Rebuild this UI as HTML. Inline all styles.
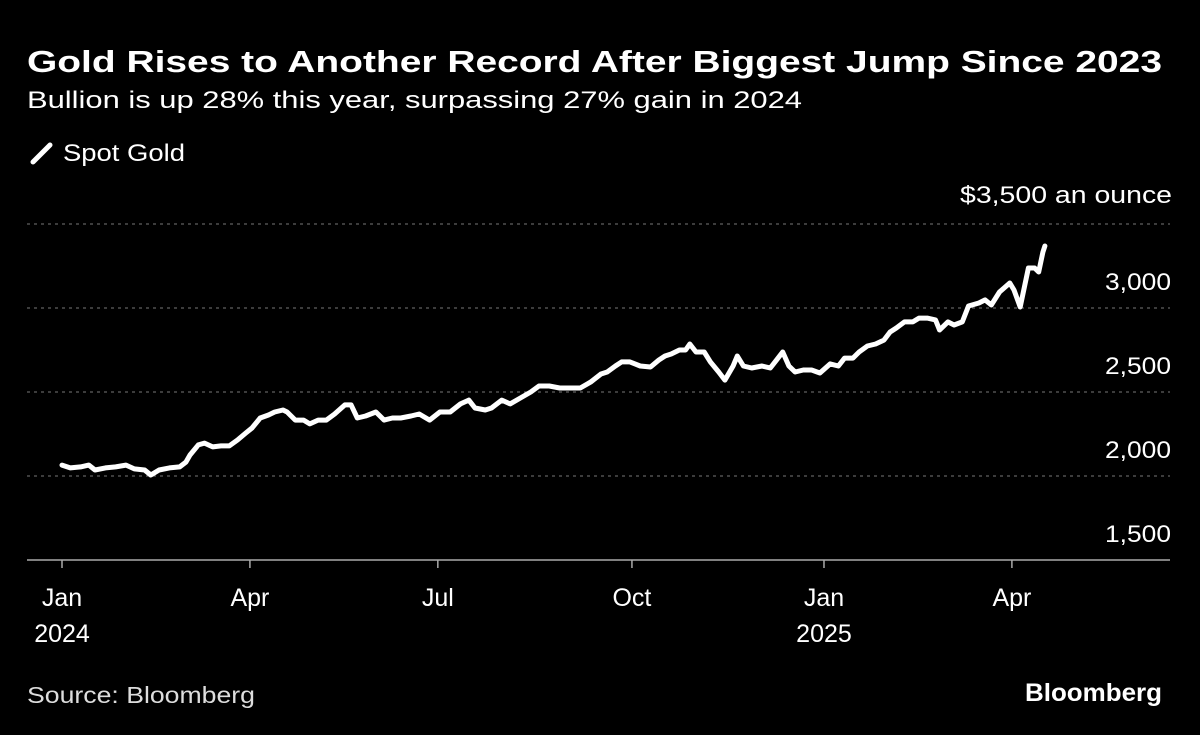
<!DOCTYPE html>
<html><head><meta charset="utf-8"><style>
body{margin:0;background:#000;width:1200px;height:735px;overflow:hidden;font-family:"Liberation Sans",sans-serif;color:#fff}
svg{position:absolute;left:0;top:0}
</style></head><body>
<svg width="1200" height="735">
<text x="27" y="72" font-size="31" font-weight="bold" fill="#fff" textLength="1135" lengthAdjust="spacingAndGlyphs">Gold Rises to Another Record After Biggest Jump Since 2023</text>
<text x="27" y="108" font-size="24" fill="#fff" textLength="775" lengthAdjust="spacingAndGlyphs">Bullion is up 28% this year, surpassing 27% gain in 2024</text>
<g>
<line x1="33" y1="162" x2="50" y2="145" stroke="#fff" stroke-width="5" stroke-linecap="round"/>
<text x="63" y="161" font-size="24" fill="#fff" textLength="122" lengthAdjust="spacingAndGlyphs">Spot Gold</text></g>
<text x="1172" y="203" font-size="24" text-anchor="end" fill="#fff" textLength="212" lengthAdjust="spacingAndGlyphs">$3,500 an ounce</text>
<g id="grid"></g><g id="xaxis"></g>
<path id="line" fill="none" stroke="#fff" stroke-width="5" stroke-linejoin="round" stroke-linecap="round"/>
<text x="27" y="703" font-size="23" fill="#ddd" textLength="228" lengthAdjust="spacingAndGlyphs">Source: Bloomberg</text>
<text x="1162" y="701" font-size="25" font-weight="bold" text-anchor="end" fill="#fff" textLength="137" lengthAdjust="spacingAndGlyphs">Bloomberg</text>
</svg>
<script>
const days=[0,4,9,13,16,21,26,31,35,40,43,47,52,57,60,62,66,69,73,77,81,85,89,92,96,100,103,107,109,113,117,120,124,128,132,137,140,143,147,152,156,160,164,169,173,178,183,188,193,197,200,205,208,213,217,222,227,231,236,241,246,251,256,261,264,268,271,275,280,285,289,292,295,299,302,304,307,311,314,318,321,325,327,330,334,339,343,346,349,352,355,359,363,367,372,376,379,383,386,390,394,398,401,404,408,412,415,419,423,425,429,432,436,439,444,447,450,454,459,461,464,468,471,473,475,476];
const prices=[2065,2048,2054,2065,2036,2048,2054,2065,2042,2036,2006,2036,2048,2054,2083,2125,2185,2196,2173,2179,2179,2214,2256,2286,2345,2363,2381,2393,2381,2333,2333,2310,2333,2333,2369,2423,2423,2345,2357,2381,2333,2345,2345,2357,2369,2333,2381,2381,2429,2452,2405,2393,2405,2452,2429,2464,2500,2536,2536,2524,2524,2524,2559,2607,2619,2655,2679,2679,2655,2649,2690,2714,2726,2750,2750,2786,2738,2738,2679,2619,2571,2655,2714,2655,2643,2655,2643,2690,2738,2655,2619,2631,2631,2613,2667,2655,2702,2702,2738,2774,2786,2809,2857,2881,2917,2917,2940,2940,2929,2869,2917,2899,2917,3012,3030,3048,3018,3095,3149,3107,3006,3238,3238,3214,3333,3369];
const yTicks=[1500,2000,2500,3000,3500];
const yLabels=["1,500","2,000","2,500","3,000",""];
const xTickDays=[0,91,182,276,369,460];
const xLabels=[["Jan","2024"],["Apr",""],["Jul",""],["Oct",""],["Jan","2025"],["Apr",""]];
const X=d=>62+d*2.065, Y=v=>560-(v-1500)*84/500;
const NS="http://www.w3.org/2000/svg";
const grid=document.getElementById('grid'), xa=document.getElementById('xaxis');
yTicks.forEach((t,i)=>{
 const l=document.createElementNS(NS,'line');
 l.setAttribute('x1',27);l.setAttribute('x2',1170);l.setAttribute('y1',Y(t));l.setAttribute('y2',Y(t));
 if(i===0){l.setAttribute('stroke','#aaa');l.setAttribute('stroke-width','1.5');}
 else{l.setAttribute('stroke','#777');l.setAttribute('stroke-dasharray','3,4');}
 
 
 grid.appendChild(l);
 if(yLabels[i]){const tx=document.createElementNS(NS,'text');
 tx.setAttribute('x',1171);tx.setAttribute('y',Y(t)-18);tx.setAttribute('text-anchor','end');tx.setAttribute('font-size','24');tx.setAttribute('fill','#fff');
 tx.setAttribute('textLength','66');tx.setAttribute('lengthAdjust','spacingAndGlyphs');
 tx.textContent=yLabels[i];
 
 
 grid.appendChild(tx);}
});
xTickDays.forEach((d,i)=>{
 const l=document.createElementNS(NS,'line');
 l.setAttribute('x1',X(d));l.setAttribute('x2',X(d));l.setAttribute('y1',560);l.setAttribute('y2',568);l.setAttribute('stroke','#aaa');l.setAttribute('stroke-width','1.5');
 
 
 xa.appendChild(l);
 xLabels[i].forEach((s,j)=>{if(!s)return;const tx=document.createElementNS(NS,'text');
 tx.setAttribute('x',X(d));tx.setAttribute('y',606+j*36);tx.setAttribute('text-anchor','middle');tx.setAttribute('font-size','25');tx.setAttribute('fill','#fff');
 tx.textContent=s;
 
 
 xa.appendChild(tx);});
});
document.getElementById('line').setAttribute('d',days.map((d,i)=>(i?'L':'M')+X(d).toFixed(1)+','+Y(prices[i]).toFixed(1)).join(''));
</script>
</body></html>
